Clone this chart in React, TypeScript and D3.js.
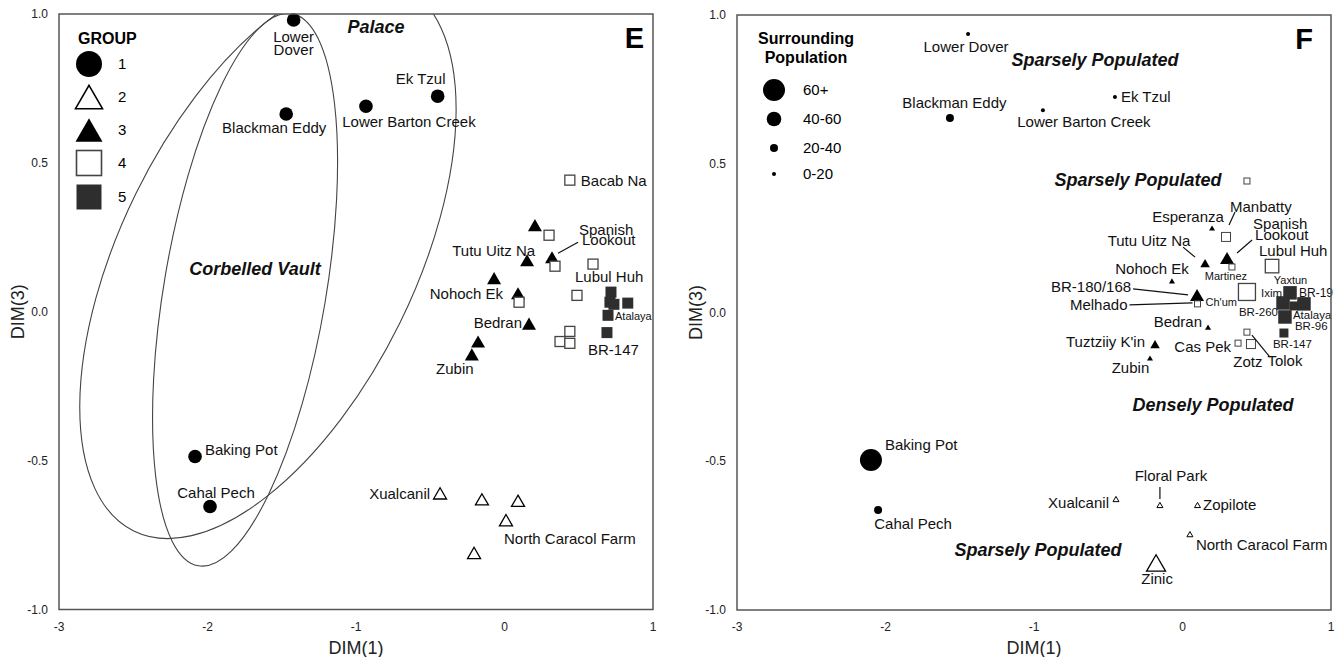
import React from 'react';
import * as d3 from 'd3';

const FONT = "'Liberation Sans', Arial, Helvetica, sans-serif";

// ---------- data ----------
const xTickValues = [-3, -2, -1, 0, 1];
const yTickValues = [1, 0.5, 0, -0.5, -1];
const groupLegendLabels = ['1', '2', '3', '4', '5'];
const popLegendLabels = ['60+', '40-60', '20-40', '0-20'];
const popLegendClasses = [3, 2, 1, 0];

// Panel E: [site, group, DIM(1), DIM(3)]
const sitesE: [string, number, number, number][] = [
  ['Lower Dover', 1, -1.42, 0.98],
  ['Blackman Eddy', 1, -1.47, 0.664],
  ['Lower Barton Creek', 1, -0.933, 0.69],
  ['Ek Tzul', 1, -0.45, 0.724],
  ['Baking Pot', 1, -2.084, -0.486],
  ['Cahal Pech', 1, -1.983, -0.654],
  ['Xualcanil', 2, -0.434, -0.61],
  ['Floral Park', 2, -0.152, -0.63],
  ['Zopilote', 2, 0.091, -0.635],
  ['North Caracol Farm', 2, 0.01, -0.7],
  ['Zinic', 2, -0.205, -0.81],
  ['Esperanza', 3, 0.205, 0.291],
  ['Tutu Uitz Na', 3, 0.152, 0.173],
  ['Spanish Lookout', 3, 0.32, 0.183],
  ['Nohoch Ek', 3, -0.07, 0.113],
  ['BR-180/168', 3, 0.091, 0.062],
  ['Bedran', 3, 0.165, -0.04],
  ["Tuztziiy K'in", 3, -0.178, -0.1],
  ['Zubin', 3, -0.22, -0.143],
  ['Bacab Na', 4, 0.44, 0.442],
  ['Manbatty', 4, 0.3, 0.257],
  ['Martinez', 4, 0.34, 0.153],
  ['Lubul Huh', 4, 0.596, 0.16],
  ['BR-260', 4, 0.488, 0.055],
  ['Melhado', 4, 0.098, 0.032],
  ['Tolok', 4, 0.44, -0.066],
  ['Cas Pek', 4, 0.374, -0.1],
  ['Zotz', 4, 0.44, -0.106],
  ['Yaxtun', 5, 0.717, 0.066],
  ['Ixim', 5, 0.71, 0.032],
  ['BR-96', 5, 0.737, 0.025],
  ['BR-19', 5, 0.83, 0.029],
  ['Atalaya', 5, 0.697, -0.012],
  ['BR-147', 5, 0.69, -0.07],
];

// Panel F: [site, group, population class (0:0-20,1:20-40,2:40-60,3:60+), DIM(1), DIM(3)]
const sitesF: [string, number, number, number, number][] = [
  ['Lower Dover', 1, 0, -1.444, 0.936],
  ['Blackman Eddy', 1, 1, -1.566, 0.654],
  ['Lower Barton Creek', 1, 0, -0.94, 0.68],
  ['Ek Tzul', 1, 0, -0.455, 0.724],
  ['Baking Pot', 1, 3, -2.098, -0.496],
  ['Cahal Pech', 1, 1, -2.05, -0.664],
  ['Xualcanil', 2, 0, -0.448, -0.627],
  ['Floral Park', 2, 0, -0.152, -0.647],
  ['Zopilote', 2, 0, 0.101, -0.647],
  ['North Caracol Farm', 2, 0, 0.05, -0.745],
  ['Zinic', 2, 3, -0.178, -0.842],
  ['Esperanza', 3, 0, 0.199, 0.284],
  ['Spanish Lookout', 3, 2, 0.3, 0.183],
  ['Tutu Uitz Na', 3, 1, 0.152, 0.166],
  ['Nohoch Ek', 3, 0, -0.071, 0.106],
  ['BR-180/168', 3, 2, 0.098, 0.059],
  ['Bedran', 3, 0, 0.172, -0.049],
  ["Tuztziiy K'in", 3, 1, -0.185, -0.106],
  ['Zubin', 3, 0, -0.219, -0.153],
  ['Bacab Na', 4, 0, 0.434, 0.442],
  ['Manbatty', 4, 1, 0.293, 0.254],
  ['Martinez', 4, 0, 0.333, 0.153],
  ['Lubul Huh', 4, 2, 0.603, 0.156],
  ['Melhado', 4, 0, 0.101, 0.029],
  ['BR-260', 4, 3, 0.434, 0.069],
  ['Cas Pek', 4, 0, 0.374, -0.103],
  ['Tolok', 4, 0, 0.434, -0.066],
  ['Zotz', 4, 1, 0.461, -0.106],
  ['Yaxtun', 5, 2, 0.724, 0.066],
  ['Ixim', 5, 2, 0.677, 0.032],
  ['BR-96', 5, 1, 0.751, 0.022],
  ['BR-19', 5, 2, 0.818, 0.029],
  ['Atalaya', 5, 2, 0.69, -0.015],
  ['BR-147', 5, 1, 0.683, -0.069],
];

// ---------- layout / annotation ----------
type Lbl = [string, string, number, number, string, number?];
// [site, text, dx px, dy px (text centre), anchor, fontSize]
const labelsE: Lbl[] = [
  ['Lower Dover', 'Lower', 0, 17, 'middle'],
  ['Lower Dover', 'Dover', 0, 30, 'middle'],
  ['Blackman Eddy', 'Blackman Eddy', -12, 14, 'middle'],
  ['Lower Barton Creek', 'Lower Barton Creek', 43, 15, 'middle'],
  ['Ek Tzul', 'Ek Tzul', -17, -17, 'middle'],
  ['Baking Pot', 'Baking Pot', 10, -7, 'start'],
  ['Cahal Pech', 'Cahal Pech', 6, -14, 'middle'],
  ['Xualcanil', 'Xualcanil', -10, 0, 'end'],
  ['North Caracol Farm', 'North Caracol Farm', -2, 19, 'start'],
  ['Bacab Na', 'Bacab Na', 11, 1, 'start'],
  ['Spanish Lookout', 'Spanish', 27, -28, 'start'],
  ['Spanish Lookout', 'Lookout', 30, -18, 'start'],
  ['Tutu Uitz Na', 'Tutu Uitz Na', 8, -9, 'end'],
  ['Lubul Huh', 'Lubul Huh', -18, 13, 'start'],
  ['Nohoch Ek', 'Nohoch Ek', 9, 16, 'end'],
  ['Bedran', 'Bedran', -7, -1, 'end'],
  ['Zubin', 'Zubin', -17, 14, 'middle'],
  ['Atalaya', 'Atalaya', 7, 1, 'start', 11],
  ['BR-147', 'BR-147', -19, 17, 'start'],
];
const leadersE: [string, number, number, number, number][] = [
  ['Spanish Lookout', 6, -4, 26, -15],
];

const labelsF: Lbl[] = [
  ['Lower Dover', 'Lower Dover', -2, 13, 'middle'],
  ['Blackman Eddy', 'Blackman Eddy', 4.5, -15, 'middle'],
  ['Lower Barton Creek', 'Lower Barton Creek', 41, 12, 'middle'],
  ['Ek Tzul', 'Ek Tzul', 6, 0, 'start'],
  ['Baking Pot', 'Baking Pot', 14, -15, 'start'],
  ['Cahal Pech', 'Cahal Pech', 35, 14, 'middle'],
  ['Xualcanil', 'Xualcanil', -7, 4, 'end'],
  ['Floral Park', 'Floral Park', 11, -29, 'middle'],
  ['Zopilote', 'Zopilote', 5.5, 0, 'start'],
  ['North Caracol Farm', 'North Caracol Farm', 6, 11, 'start'],
  ['Zinic', 'Zinic', 1, 16, 'middle'],
  ['Esperanza', 'Esperanza', -24, -11, 'middle'],
  ['Manbatty', 'Manbatty', 4, -30, 'start'],
  ['Spanish Lookout', 'Spanish', 26, -34, 'start'],
  ['Spanish Lookout', 'Lookout', 28, -23, 'start'],
  ['Tutu Uitz Na', 'Tutu Uitz Na', -56, -22, 'middle'],
  ['Lubul Huh', 'Lubul Huh', -13, -15, 'start'],
  ['Nohoch Ek', 'Nohoch Ek', -20, -12, 'middle'],
  ['Martinez', 'Martinez', -6, 9, 'middle', 11],
  ['Yaxtun', 'Yaxtun', 0.5, -13, 'middle', 11],
  ['BR-180/168', 'BR-180/168', -106, -8, 'middle'],
  ['Ixim', 'Ixim', -22, -10, 'start', 11.5],
  ['BR-19', 'BR-19', -5, -11, 'start', 12],
  ['Melhado', 'Melhado', -70, 1, 'end'],
  ['Melhado', "Ch'um", 8, -2, 'start', 11],
  ['BR-260', 'BR-260', 11.5, 20, 'middle', 11.5],
  ['Atalaya', 'Atalaya', 8, -2, 'start', 11.5],
  ['Atalaya', 'BR-96', 10, 9, 'start', 11.5],
  ['Bedran', 'Bedran', -6, -5, 'end'],
  ["Tuztziiy K'in", "Tuztziiy K'in", -10, -2, 'end'],
  ['BR-147', 'BR-147', -11, 11, 'start', 11.5],
  ['Cas Pek', 'Cas Pek', -7, 4, 'end'],
  ['Zotz', 'Zotz', -3, 18, 'middle'],
  ['Tolok', 'Tolok', 38, 29, 'middle'],
  ['Zubin', 'Zubin', -19.5, 10, 'middle'],
];
const leadersF: [string, number, number, number, number][] = [
  ['Manbatty', 3, -12, 9, -25],
  ['Spanish Lookout', 10, -5, 25, -18],
  ['Tutu Uitz Na', -22, -16, -10, -6],
  ['BR-180/168', -64, -6, -9, 0],
  ['Melhado', -68, 1, -5, -1],
  ['Tolok', 5, 3, 23, 25],
  ['Floral Park', 0, -18, 0, -6],
];

const ellipsesE = [
  { cx: -1.593, cy: 0.18, rx: 147, ry: 304, angle: 26.2 },
  { cx: -1.747, cy: 0.074, rx: 81, ry: 280, angle: 9.6 },
];
const notesE: [string, number, number][] = [
  ['Palace', -0.865, 0.956],
  ['Corbelled Vault', -1.68, 0.143],
];
const notesF: [string, number, number][] = [
  ['Sparsely Populated', -0.589, 0.849],
  ['Sparsely Populated', -0.3, 0.445],
  ['Densely Populated', 0.205, -0.311],
  ['Sparsely Populated', -0.973, -0.798],
];

const PANEL_E = { left: 59, right: 653, top: 14, bottom: 609.5 };
const PANEL_F = { left: 737, right: 1331, top: 15, bottom: 610 };

const fmt = d3.formatLocale({ decimal: '.', thousands: ',', grouping: [3], currency: ['', ''], minus: '-' });
const yFmt = fmt.format('.1f');
const xFmt = fmt.format('d');

// sizes per population class
const circleR = [2, 4, 7.3, 11];
const triSide = [6, 9.5, 14, 19];
const sqSide = [6, 9, 13.5, 17];

function Marker({ group, x, y, r, tri, sq, sw = 1.3 }: any) {
  if (group === 1) return <circle cx={x} cy={y} r={r} fill="#000" />;
  if (group === 2 || group === 3) {
    const h = tri * 0.866;
    const pts = `${x},${y - h / 2} ${x + tri / 2},${y + h / 2} ${x - tri / 2},${y + h / 2}`;
    return group === 2 ? (
      <polygon points={pts} fill="#fff" stroke="#000" strokeWidth={sw} strokeLinejoin="miter" />
    ) : (
      <polygon points={pts} fill="#000" />
    );
  }
  if (group === 4)
    return <rect x={x - sq / 2} y={y - sq / 2} width={sq} height={sq} fill="#fff" stroke="#444" strokeWidth={sw} />;
  return <rect x={x - sq / 2} y={y - sq / 2} width={sq} height={sq} fill="#2e2e2e" />;
}

function Axes({ p, xs, ys }: any) {
  const cx = (p.left + p.right) / 2;
  const cy = (p.top + p.bottom) / 2;
  return (
    <g fontFamily={FONT} fill="#222">
      {xTickValues.map((t) => (
        <text key={'x' + t} x={xs(t)} y={p.bottom + 17} dy="0.35em" fontSize={12} textAnchor="middle">
          {xFmt(t)}
        </text>
      ))}
      {yTickValues.map((t) => (
        <text key={'y' + t} x={p.left - 11} y={ys(t)} dy="0.35em" fontSize={12} textAnchor="end">
          {yFmt(t)}
        </text>
      ))}
      <text x={cx} y={p.bottom + 38} dy="0.35em" fontSize={18} textAnchor="middle">DIM(1)</text>
      <text transform={`translate(${p.left - 41},${cy}) rotate(-90)`} dy="0.35em" fontSize={18} textAnchor="middle">
        DIM(3)
      </text>
      <rect x={p.left} y={p.top} width={p.right - p.left} height={p.bottom - p.top} fill="none" stroke="#555" strokeWidth={1.5} />
    </g>
  );
}

function Labels({ labels, pos }: any) {
  return (
    <g fontFamily={FONT} fill="#111">
      {labels.map((l: Lbl, i: number) => {
        const p = pos.get(l[0]);
        return (
          <text key={i} x={p[0] + l[2]} y={p[1] + l[3]} dy="0.35em" textAnchor={l[4]} fontSize={l[5] || 15}>
            {l[1]}
          </text>
        );
      })}
    </g>
  );
}

function Leaders({ leaders, pos }: any) {
  return (
    <g stroke="#111" strokeWidth={1.2}>
      {leaders.map((l: any, i: number) => {
        const p = pos.get(l[0]);
        return <line key={i} x1={p[0] + l[1]} y1={p[1] + l[2]} x2={p[0] + l[3]} y2={p[1] + l[4]} />;
      })}
    </g>
  );
}

function PanelE() {
  const p = PANEL_E;
  const xs = d3.scaleLinear().domain([-3, 1]).range([p.left, p.right]);
  const ys = d3.scaleLinear().domain([-1, 1]).range([p.bottom, p.top]);
  const pos = new Map<string, [number, number]>();
  sitesE.forEach((s) => pos.set(s[0], [xs(s[2]), ys(s[3])]));
  const legendY = [64, 97, 130, 163, 197];
  return (
    <g>
      <defs>
        <clipPath id="clipE">
          <rect x={p.left} y={p.top} width={p.right - p.left} height={p.bottom - p.top} />
        </clipPath>
      </defs>
      <g clipPath="url(#clipE)" fill="none" stroke="#444" strokeWidth={1.1}>
        {ellipsesE.map((e, i) => (
          <ellipse key={i} cx={0} cy={0} rx={e.rx} ry={e.ry}
            transform={`translate(${xs(e.cx)},${ys(e.cy)}) rotate(${e.angle})`} />
        ))}
      </g>
      {sitesE.map((s, i) => {
        const [x, y] = pos.get(s[0])!;
        return <Marker key={i} group={s[1]} x={x} y={y} r={6.8} tri={s[1] === 2 ? 13 : 14} sq={s[1] === 4 ? 10 : 11} sw={1.3} />;
      })}
      <Leaders leaders={leadersE} pos={pos} />
      <Labels labels={labelsE} pos={pos} />
      <g fontFamily={FONT} fontWeight="bold" fontStyle="italic" fontSize={18} fill="#111">
        {notesE.map((n, i) => (
          <text key={i} x={xs(n[1])} y={ys(n[2])} dy="0.35em" textAnchor="middle">{n[0]}</text>
        ))}
      </g>
      {/* legend */}
      <g fontFamily={FONT}>
        <text x={p.left + 19} y={38} dy="0.35em" fontSize={16} fontWeight="bold">GROUP</text>
        {groupLegendLabels.map((g, i) => (
          <g key={g}>
            <Marker group={i + 1} x={p.left + 30} y={legendY[i]} r={13} tri={27} sq={25} sw={1.6} />
            <text x={p.left + 59} y={legendY[i]} dy="0.35em" fontSize={15}>{g}</text>
          </g>
        ))}
      </g>
      <text x={644} y={48} fontFamily={FONT} fontWeight="bold" fontSize={29} textAnchor="end">E</text>
      <Axes p={p} xs={xs} ys={ys} />
    </g>
  );
}

function PanelF() {
  const p = PANEL_F;
  const xs = d3.scaleLinear().domain([-3, 1]).range([p.left, p.right]);
  const ys = d3.scaleLinear().domain([-1, 1]).range([p.bottom, p.top]);
  const pos = new Map<string, [number, number]>();
  sitesF.forEach((s) => pos.set(s[0], [xs(s[3]), ys(s[4])]));
  const legendY = [90, 119, 148, 174];
  return (
    <g>
      {sitesF.map((s, i) => {
        const [x, y] = pos.get(s[0])!;
        const c = s[2];
        return <Marker key={i} group={s[1]} x={x} y={y} r={circleR[c]} tri={triSide[c]} sq={sqSide[c]} sw={c >= 2 ? 1.3 : 1} />;
      })}
      <Leaders leaders={leadersF} pos={pos} />
      <Labels labels={labelsF} pos={pos} />
      <g fontFamily={FONT} fontWeight="bold" fontStyle="italic" fontSize={18} fill="#111">
        {notesF.map((n, i) => (
          <text key={i} x={xs(n[1])} y={ys(n[2])} dy="0.35em" textAnchor="middle">{n[0]}</text>
        ))}
      </g>
      <g fontFamily={FONT}>
        <text x={p.left + 69} y={38} dy="0.35em" fontSize={16} fontWeight="bold" textAnchor="middle">Surrounding</text>
        <text x={p.left + 69} y={57} dy="0.35em" fontSize={16} fontWeight="bold" textAnchor="middle">Population</text>
        {popLegendLabels.map((l, i) => (
          <g key={l}>
            <circle cx={p.left + 37} cy={legendY[i]} r={circleR[popLegendClasses[i]]} fill="#000" />
            <text x={p.left + 66} y={legendY[i]} dy="0.35em" fontSize={15}>{l}</text>
          </g>
        ))}
      </g>
      <text x={1313} y={49} fontFamily={FONT} fontWeight="bold" fontSize={29} textAnchor="end">F</text>
      <Axes p={p} xs={xs} ys={ys} />
    </g>
  );
}

export default function App() {
  return (
    <svg width={1338} height={657} style={{ position: 'absolute', left: 0, top: 0, background: '#fff' }}>
      <rect width={1338} height={657} fill="#fff" />
      <PanelE />
      <PanelF />
    </svg>
  );
}
